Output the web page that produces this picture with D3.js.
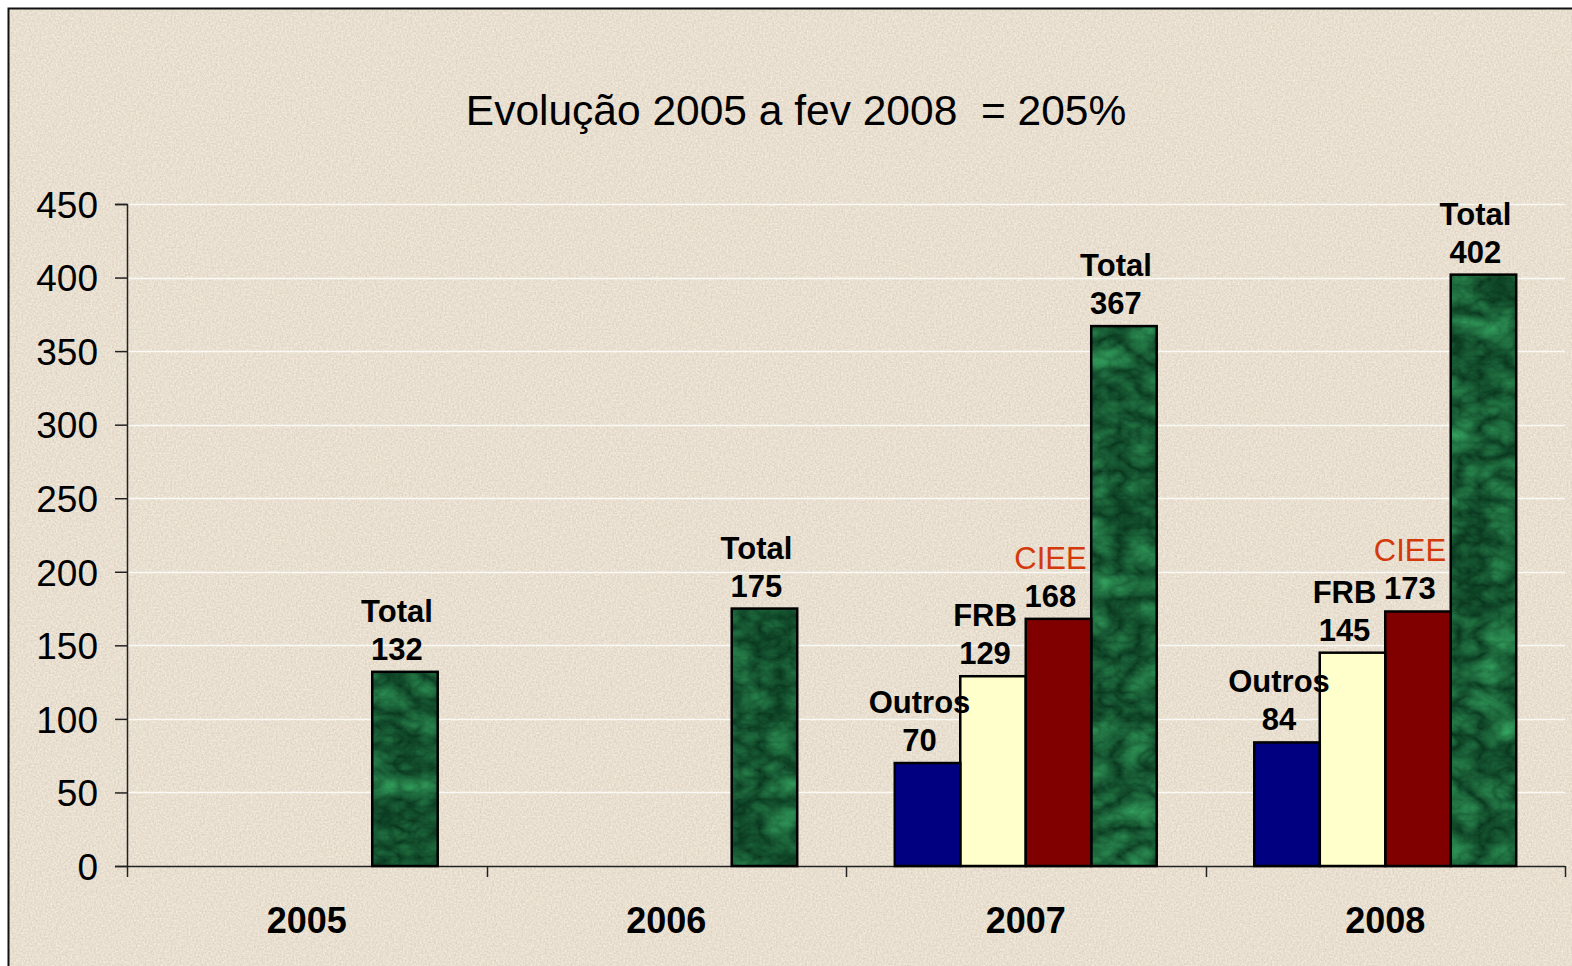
<!DOCTYPE html>
<html>
<head>
<meta charset="utf-8"/>
<title>Evolução 2005 a fev 2008</title>
<script src="https://d3js.org/d3.v7.min.js"></script>
<style type="text/css">
	body { margin: 0; background: #fff; }
	text { font-family: "Liberation Sans", Arial, sans-serif; fill: #000; }
	.ytick { font-size: 37px; }
	.xlabel { font-size: 36px; font-weight: bold; }
	.lbl { font-size: 31px; font-weight: bold; }
	.ciee { font-size: 31px; fill: #d4390c; }
	.title { font-size: 42.5px; white-space: pre; }
</style>
</head>
<body>
<svg width="1572" height="966"></svg>
<script type="text/javascript">
// data
var categories = ["2005", "2006", "2007", "2008"];
var seriesNames = ["Outros", "FRB", "CIEE", "Total"];
var outros = [null, null, 70, 84];
var frb    = [null, null, 129, 145];
var ciee   = [null, null, 168, 173];
var total  = [132, 175, 367, 402];
var yTicks = [0, 50, 100, 150, 200, 250, 300, 350, 400, 450];
var titleText = "Evolução 2005 a fev 2008  = 205%";

var colors = {"Outros": "#000080", "FRB": "#ffffcc", "CIEE": "#800000", "Total": "#1a4f30"};

var svg = d3.select("svg");
var defs = svg.append("defs");

// paper speckle for the background
var paper = defs.append("filter").attr("id", "paper")
	.attr("color-interpolation-filters", "sRGB")
	.attr("x", 0).attr("y", 0).attr("width", 1).attr("height", 1);
paper.append("feTurbulence").attr("type", "fractalNoise")
	.attr("baseFrequency", 0.55).attr("numOctaves", 2).attr("seed", 3).attr("result", "n");
paper.append("feColorMatrix").attr("in", "n").attr("type", "matrix")
	.attr("values", "0.16 0 0 0 0.83  0.16 0 0 0 0.795  0.16 0 0 0 0.735  0 0 0 0 1");

// green marble for the Total bars
var marble = defs.append("filter").attr("id", "marble")
	.attr("color-interpolation-filters", "sRGB")
	.attr("x", 0).attr("y", 0).attr("width", 1).attr("height", 1);
marble.append("feTurbulence").attr("type", "turbulence")
	.attr("baseFrequency", "0.025 0.035").attr("numOctaves", 4).attr("seed", 7).attr("result", "t");
marble.append("feColorMatrix").attr("in", "t").attr("type", "matrix")
	.attr("values", "0.2 0 0 0 0.03  0.5 0 0 0 0.2  0.3 0 0 0 0.11  0 0 0 0 1")
	.attr("result", "c");
marble.append("feComposite").attr("in", "c").attr("in2", "SourceGraphic").attr("operator", "in");

// frame
svg.append("rect").attr("x", 8.5).attr("y", 8.5).attr("width", 1600).attr("height", 1000)
	.attr("fill", "#e8dfd0").attr("filter", "url(#paper)");
svg.append("rect").attr("x", 8.5).attr("y", 8.5).attr("width", 1600).attr("height", 1000)
	.attr("fill", "none").attr("stroke", "#111").attr("stroke-width", 2);

var plotLeft = 127, plotRight = 1565, plotTop = 204, plotBottom = 866;

var y = d3.scaleLinear().domain([0, 450]).range([plotBottom, plotTop]);
var x0 = d3.scaleBand().domain(categories).range([plotLeft, plotRight]);
var x1 = d3.scaleBand().domain(seriesNames).range([0, x0.bandwidth()]).paddingOuter(0.745);

// title
svg.append("text").attr("class", "title")
	.attr("x", 796).attr("y", 125).attr("text-anchor", "middle")
	.text(titleText);

// gridlines
svg.append("g").selectAll("line").data(yTicks.filter(function(d) { return d > 0; }))
	.enter().append("line")
	.attr("x1", plotLeft).attr("x2", plotRight)
	.attr("y1", function(d) { return Math.round(y(d)) + 0.5; })
	.attr("y2", function(d) { return Math.round(y(d)) + 0.5; })
	.attr("stroke", "#fbf9f5").attr("stroke-width", 1.5);

// y axis
var yAxis = svg.append("g").attr("transform", "translate(" + plotLeft + ",0)")
	.call(d3.axisLeft(y).tickValues(yTicks).tickSize(12).tickPadding(17));
yAxis.attr("font-family", null).attr("font-size", null);
yAxis.select(".domain").attr("stroke", "#222").attr("stroke-width", 1.5);
yAxis.selectAll(".tick line").attr("stroke", "#222").attr("stroke-width", 1.5);
yAxis.selectAll(".tick text").attr("class", "ytick").attr("fill", "#000").attr("dy", "0.36em");

// x axis
var xAxisG = svg.append("g");
xAxisG.append("line").attr("x1", plotLeft).attr("x2", plotRight)
	.attr("y1", plotBottom + 0.5).attr("y2", plotBottom + 0.5)
	.attr("stroke", "#222").attr("stroke-width", 1.5);
var bounds = categories.map(function(c) { return x0(c); }).concat([plotRight]);
xAxisG.selectAll("line.tk").data(bounds).enter().append("line").attr("class", "tk")
	.attr("x1", function(d) { return Math.round(d) + 0.5; })
	.attr("x2", function(d) { return Math.round(d) + 0.5; })
	.attr("y1", plotBottom).attr("y2", plotBottom + 11)
	.attr("stroke", "#222").attr("stroke-width", 1.5);
xAxisG.selectAll("text").data(categories).enter().append("text").attr("class", "xlabel")
	.attr("x", function(c) { return x0(c) + x0.bandwidth() / 2; })
	.attr("y", 933).attr("text-anchor", "middle")
	.text(function(c) { return c; });

// bars
var seriesValues = {"Outros": outros, "FRB": frb, "CIEE": ciee, "Total": total};
var bars = [];
categories.forEach(function(c, i) {
	seriesNames.forEach(function(s) {
		var v = seriesValues[s][i];
		if (v != null) bars.push({cat: c, series: s, value: v});
	});
});

var barG = svg.append("g");
barG.selectAll("rect.fill").data(bars).enter().append("rect").attr("class", "fill")
	.attr("x", function(d) { return x0(d.cat) + x1(d.series); })
	.attr("y", function(d) { return y(d.value); })
	.attr("width", x1.bandwidth())
	.attr("height", function(d) { return plotBottom - y(d.value); })
	.attr("fill", function(d) { return colors[d.series]; })
	.attr("filter", function(d) { return d.series == "Total" ? "url(#marble)" : null; });
barG.selectAll("rect.edge").data(bars).enter().append("rect").attr("class", "edge")
	.attr("x", function(d) { return x0(d.cat) + x1(d.series); })
	.attr("y", function(d) { return y(d.value); })
	.attr("width", x1.bandwidth())
	.attr("height", function(d) { return plotBottom - y(d.value); })
	.attr("fill", "none").attr("stroke", "#000").attr("stroke-width", 2.5);

// labels over bars: name on first line, value on second
var labG = svg.append("g");
bars.forEach(function(d) {
	var cx = x0(d.cat) + x1(d.series) + x1.bandwidth() / 2 - 8;
	var base = y(d.value) - 12;
	labG.append("text").attr("class", "lbl").attr("text-anchor", "middle")
		.attr("x", cx).attr("y", base).text(d.value);
	labG.append("text").attr("class", d.series == "CIEE" ? "ciee" : "lbl")
		.attr("text-anchor", "middle")
		.attr("x", cx).attr("y", base - 38).text(d.series);
});
</script>
</body>
</html>
